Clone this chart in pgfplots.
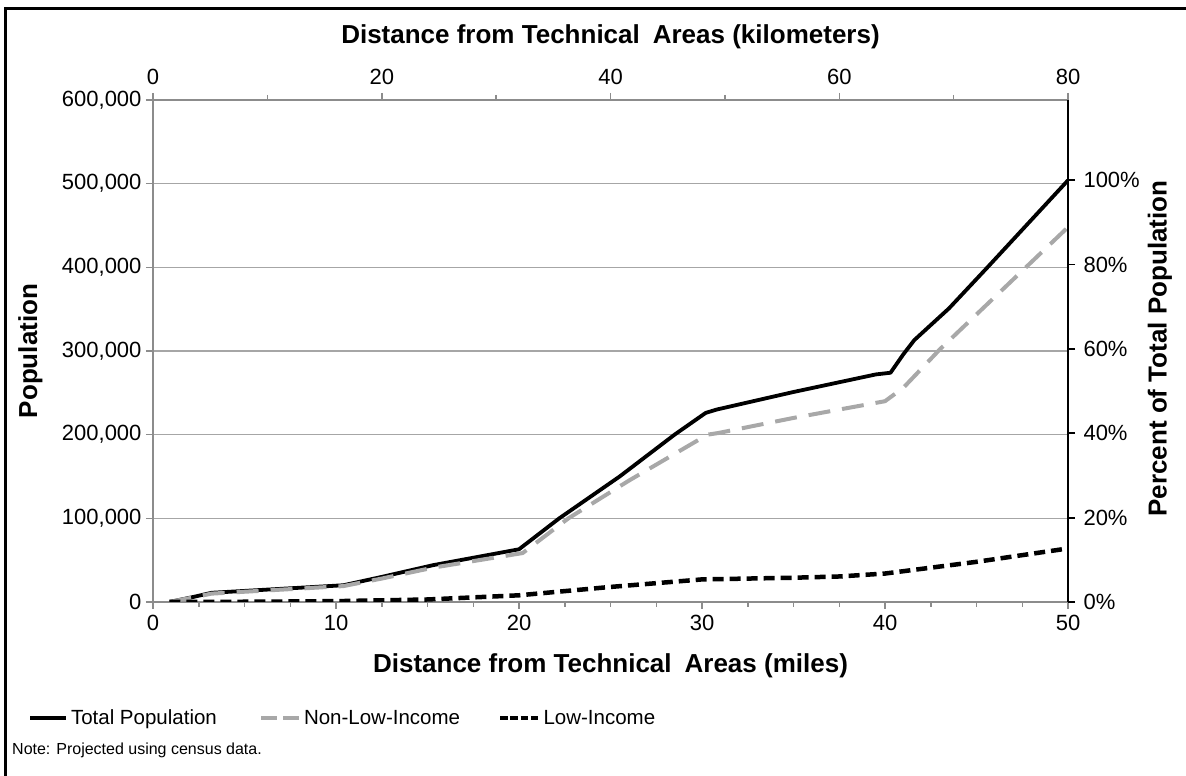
\documentclass[border=0pt]{standalone}
\usepackage{fontspec}
\setmainfont{Liberation Sans}
\usepackage{pgfplots}
\pgfplotsset{compat=1.18}
\definecolor{axgray}{HTML}{8C8C8C}
\definecolor{gridgray}{HTML}{A6A6A6}
\definecolor{dashgray}{HTML}{A8A8A8}
\pgfplotsset{
  nllegend/.style={legend image code/.code={\draw[##1, dash pattern=on 16bp off 6bp] (0bp,0bp) -- (38bp,0bp);}},
  lowlegend/.style={legend image code/.code={\draw[##1, dash pattern=on 7.5bp off 2.7bp] (0bp,0bp) -- (38bp,0bp);}},
}

\pgfplotstableread{
x y
0.9 0
2.2 6000
3.2 11000
6 14500
10.4 20000
12.5 30000
15.3 44000
20 63000
22.2 100000
25.5 150000
28.5 200000
30.2 226000
30.8 230000
35 251000
39.5 272000
40.3 274000
41 296000
41.6 313000
43.5 351000
45.6 400000
50 504000
}\total

\pgfplotstableread{
x y
0.9 0
2.2 5500
3.2 10000
6 13500
10.4 19000
12.5 28000
15.3 41000
20.2 58500
22.7 100000
26 145000
30.3 200000
30.9 202000
35 220000
40 240000
41 256000
43 302000
50 448000
}\nonlow

\pgfplotstableread{
x y
0.9 0
2 0
5 300
10 1000
15 3000
20 8000
22.5 13000
25 18000
27.5 22500
30 27000
32.5 28000
35 29000
37.5 30500
40 34000
42.5 41000
45 48000
47.5 56000
50 64000
}\low

\begin{document}
\begin{tikzpicture}[x=1bp,y=1bp]
\path[use as bounding box] (0,0) rectangle (1186,776);
\draw[line width=3bp] (5.5,0) -- (5.5,767.5) -- (1186,767.5);

\begin{axis}[
  at={(153bp,174bp)}, anchor=south west,
  width=915bp, height=502bp, scale only axis,
  xmin=0, xmax=50, ymin=0, ymax=600000,
  separate axis lines,
  axis x line*=bottom, axis y line*=left,
  x axis line style={axgray, line width=2.2bp, -},
  y axis line style={axgray, line width=2.2bp, -},
  xtick={0,10,...,50}, minor x tick num=3,
  ytick={0,100000,...,600000},
  scaled y ticks=false,
  tick align=outside,
  major tick length=7bp, minor tick length=5bp,
  every tick/.style={axgray, line width=1.5bp},
  ymajorgrids, grid style={gridgray, line width=1.6bp},
  /pgf/number format/assume math mode=true,
  /pgf/number format/.cd, fixed, 1000 sep={,}, /pgfplots/.cd,
  tick label style={font=\fontsize{22bp}{26bp}\selectfont, black},
  xticklabel style={yshift=-3bp},
  yticklabel style={xshift=-1bp},
  xlabel={Distance from Technical\hspace{0.5em}Areas (miles)},
  xlabel style={font=\fontsize{26bp}{30bp}\selectfont\bfseries, at={(axis description cs:0.5,-0.1275)}, anchor=center},
  ylabel={Population},
  ylabel style={font=\fontsize{26bp}{30bp}\selectfont\bfseries, at={(axis description cs:-0.134,0.5)}, anchor=center, rotate=0},
  legend columns=3,
  legend style={at={(axis description cs:-0.1366,-0.231)}, anchor=west, draw=none, fill=none,
    inner xsep=0pt, inner ysep=0pt,
    font=\fontsize{20.5bp}{24bp}\selectfont,
    nodes={inner sep=0pt},
    /tikz/every odd column/.append style={column sep=3bp}},
  legend image code/.code={\draw[#1] (0bp,0bp) -- (36bp,0bp);},
]
\addplot[black, line width=3.8bp, line join=round] table[x=x,y=y] {\total};
\addlegendentry{\makebox[188bp][l]{Total Population}}
\addplot[dashgray, line width=4bp, dash pattern=on 22bp off 12bp, nllegend] table[x=x,y=y] {\nonlow};
\addlegendentry{\makebox[194bp][l]{Non-Low-Income}}
\addplot[black, line width=4.5bp, dash pattern=on 11bp off 6bp, lowlegend] table[x=x,y=y] {\low};
\addlegendentry{Low-Income}
\end{axis}

\begin{axis}[
  at={(153bp,174bp)}, anchor=south west,
  width=915bp, height=502bp, scale only axis,
  xmin=0, xmax=80, ymin=0, ymax=119,
  separate axis lines,
  axis x line*=top, axis y line*=right,
  x axis line style={axgray, line width=2.2bp, -},
  y axis line style={black, line width=2.5bp, -},
  xtick={0,20,...,80}, minor x tick num=1,
  ytick={0,20,...,100},
  tick align=outside,
  major tick length=7bp, minor tick length=5bp,
  x tick style={axgray, line width=1.5bp},
  y tick style={black, line width=1.8bp},
  /pgf/number format/assume math mode=true,
  tick label style={font=\fontsize{22bp}{26bp}\selectfont, black},
  xticklabel style={yshift=5bp},
  yticklabel style={xshift=5bp},
  yticklabel={\pgfmathprintnumber{\tick}\%},
  xlabel={Distance from Technical\hspace{0.5em}Areas (kilometers)},
  xlabel style={font=\fontsize{26bp}{30bp}\selectfont\bfseries, at={(axis description cs:0.5,1.125)}, anchor=center},
  ylabel={Percent of Total Population},
  ylabel style={font=\fontsize{26bp}{30bp}\selectfont\bfseries, at={(axis description cs:1.1005,0.505)}, anchor=center, rotate=0},
]
\end{axis}

\node[anchor=west, font=\fontsize{16bp}{19bp}\selectfont, inner sep=0pt] at (12,26) {Note: Projected using census data.};
\end{tikzpicture}
\end{document}
